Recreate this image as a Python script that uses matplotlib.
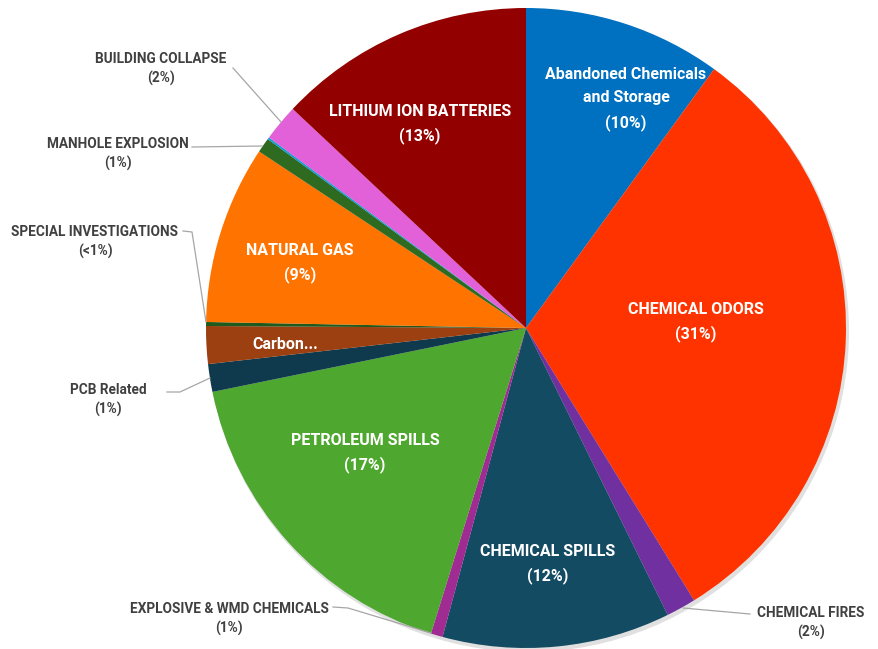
import matplotlib
matplotlib.use("Agg")
import matplotlib.pyplot as plt
from matplotlib.patches import Circle

# ---- data (clockwise from 12 o'clock) ----
categories = ["Abandoned Chemicals\nand Storage", "CHEMICAL ODORS", "CHEMICAL FIRES",
              "CHEMICAL SPILLS", "EXPLOSIVE & WMD CHEMICALS", "PETROLEUM SPILLS",
              "PCB Related", "Carbon...", "SPECIAL INVESTIGATIONS", "NATURAL GAS",
              "MANHOLE EXPLOSION", "Other", "BUILDING COLLAPSE", "LITHIUM ION BATTERIES"]
values = [10.0, 31.2, 1.5, 11.5, 0.6, 17.0, 1.4, 1.9, 0.2, 9.0, 0.75, 0.1, 1.85, 13.0]
pct_labels = ["(10%)", "(31%)", "(2%)", "(12%)", "(1%)", "(17%)", "(1%)", "", "(<1%)",
              "(9%)", "(1%)", "", "(2%)", "(13%)"]
colors = ["#0070C0", "#FF3300", "#7030A0", "#134B62", "#A02B93", "#4EA72E", "#0F3A4E",
          "#9C4012", "#1E5A1E", "#FF7300", "#2E6A1F", "#0F9ED5", "#E260D8", "#920000"]

W, H = 879, 649
fig = plt.figure(figsize=(W / 100, H / 100), dpi=100)
ax = fig.add_axes([0, 0, 1, 1])

cx, cy, R = 526, H - 328, 320

# subtle shadow
ax.add_patch(Circle((cx + 2, cy - 3), R + 1, color="#000000", alpha=0.12, lw=0, zorder=0))

ax.pie(values, colors=colors, startangle=90, counterclock=False, center=(cx, cy),
       radius=R, wedgeprops=dict(linewidth=0), frame=True)

ax.set_xlim(0, W)
ax.set_ylim(0, H)
ax.set_aspect("equal")
ax.axis("off")

FONT = ["Roboto", "DejaVu Sans"]

def py(y):
    return H - y

# inside labels (pixel centers)
inside = {
    0: (626, 99),
    1: (696, 322),
    3: (548, 564),
    5: (365, 453),
    7: (285, 345),
    9: (300, 263),
    13: (420, 124),
}
for i, (x, y) in inside.items():
    txt = categories[i] + ("\n" + pct_labels[i] if pct_labels[i] else "")
    ax.text(x, py(y), txt, ha="center", va="center", color="white", fontsize=11.5,
            fontweight="bold", family=FONT, linespacing=1.65)

# outside labels with leader lines
outside = {
    12: ((161, 69), [(233, 68), (281, 122)]),
    10: ((118, 154), [(192, 147), (262, 146)]),
    8: ((95, 242), [(183, 231), (192, 232), (206, 322)]),
    6: ((108, 400), [(167, 392), (180, 392), (210, 378)]),
    4: ((229, 619), [(333, 607), (348, 608), (431, 633)]),
    2: ((811, 623), [(750, 614), (683, 608)]),
}
for i, ((x, y), pts) in outside.items():
    ax.text(x, py(y), categories[i] + "\n" + pct_labels[i], ha="center", va="center",
            color="#404040", fontsize=9.8, fontweight="bold", family=FONT, linespacing=1.38)
    ax.plot([p[0] for p in pts], [py(p[1]) for p in pts], color="#A6A6A6", lw=0.9,
            zorder=5)

fig.savefig("out.png", dpi=100)
